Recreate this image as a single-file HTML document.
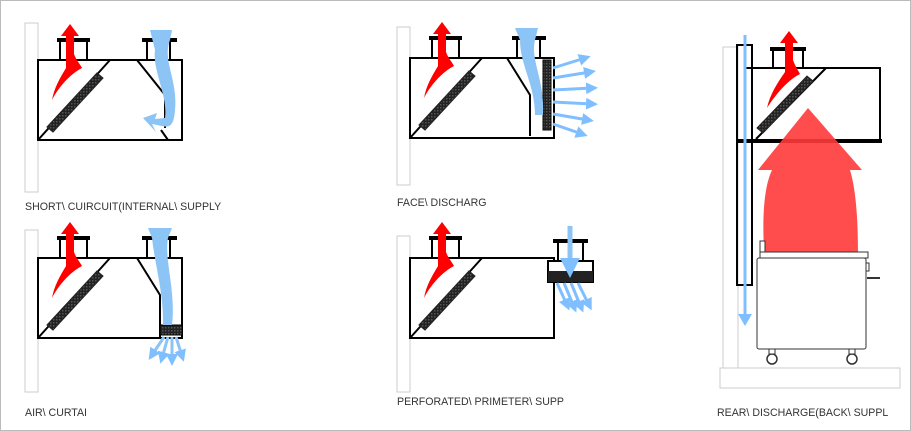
<!DOCTYPE html>
<html><head><meta charset="utf-8"><style>
body{margin:0;background:#fff}
svg{display:block}
text{font-family:"Liberation Sans",sans-serif;font-size:10.6px;fill:#333}
</style></head><body>
<svg width="911" height="431" viewBox="0 0 911 431" xmlns="http://www.w3.org/2000/svg">
<rect x="0.5" y="0.5" width="910" height="430" fill="#fff" stroke="#bbb"/>
<defs>
<pattern id="mesh" width="3" height="3" patternUnits="userSpaceOnUse"><rect width="3" height="3" fill="#222"/><rect width="1.5" height="1.5" fill="#555"/></pattern>
<g id="hood">
 <rect x="22" y="0" width="27" height="20" fill="#fff" stroke="#000" stroke-width="2"/>
 <line x1="19" y1="0" x2="52" y2="0" stroke="#000" stroke-width="4"/>
 <rect x="0" y="20" width="144" height="80" fill="#fff" stroke="#000" stroke-width="2"/>
 <line x1="0" y1="100" x2="72" y2="20" stroke="#000" stroke-width="2"/>
 <polygon points="9,87 15,92 65,38 59,33" fill="url(#mesh)" stroke="#222"/>
 <path d="M32,-16 L41,-4 L36,-4 L36,14 C38,20 42,24 44,28 C32,34 20,48 14,60 C16,48 22,38 28,28 L28,-4 L23,-4Z" fill="#f00"/>
</g>
<marker id="ah" markerWidth="4" markerHeight="4" refX="2" refY="2" orient="auto"><path d="M0,0 L4,2 L0,4Z" fill="#7fbfff"/></marker>
</defs>

<!-- Panel 1 -->
<rect x="25" y="23" width="13" height="169" fill="#fff" stroke="#ccc"/>
<use href="#hood" x="38" y="40"/>
<rect x="147" y="40" width="23" height="20" fill="#fff" stroke="#000" stroke-width="2"/>
<line x1="142" y1="40" x2="177" y2="40" stroke="#000" stroke-width="4"/>
<polyline points="137,60 165,95 165,128" fill="none" stroke="#000" stroke-width="2"/>
<line x1="161" y1="130" x2="168" y2="140" stroke="#000" stroke-width="2"/>
<path d="M150,30 L172,30 L170,40 C162,60 178,80 175,110 C174,125 170,128 162,126 L152,124 L156,132 L143,118 L157,113 L155,119 L165,118 C168,95 152,70 155,50Z" fill="#8cc4f5"/>
<text x="25" y="210">SHORT\ CUIRCUIT(INTERNAL\ SUPPLY</text>

<!-- Panel 2 -->
<rect x="25" y="230" width="13" height="162" fill="#fff" stroke="#ccc"/>
<use href="#hood" x="38" y="238"/>
<rect x="147" y="238" width="23" height="20" fill="#fff" stroke="#000" stroke-width="2"/>
<line x1="142" y1="238" x2="177" y2="238" stroke="#000" stroke-width="4"/>
<polyline points="137,258 160,295 160,338" fill="none" stroke="#000" stroke-width="2"/>
<rect x="160" y="325" width="22" height="10" fill="url(#mesh)" stroke="#000"/>
<path d="M148,228 L172,228 L168,238 C164,260 176,290 172,325 L163,325 C164,295 155,265 152,238Z" fill="#8cc4f5"/>
<g stroke="#8cc4f5" stroke-width="3" marker-end="url(#ah)">
<line x1="164" y1="337" x2="152" y2="355"/><line x1="168" y1="337" x2="162" y2="358"/><line x1="172" y1="337" x2="172" y2="360"/><line x1="176" y1="337" x2="182" y2="356"/></g>
<text x="25" y="416">AIR\ CURTAI</text>

<!-- Panel 3 -->
<rect x="397" y="27" width="13" height="158" fill="#fff" stroke="#ccc"/>
<use href="#hood" x="410" y="38"/>
<rect x="517" y="38" width="23" height="20" fill="#fff" stroke="#000" stroke-width="2"/>
<line x1="512" y1="38" x2="546" y2="38" stroke="#000" stroke-width="4"/>
<polyline points="507,58 530,95 530,136" fill="none" stroke="#000" stroke-width="2"/>
<rect x="543" y="60" width="8" height="70" fill="url(#mesh)" stroke="#000"/>
<path d="M515,28 L538,28 L535,40 C530,60 545,80 543,115 L535,115 C535,85 520,65 520,40Z" fill="#8cc4f5"/>
<g stroke="#7fbfff" stroke-width="3" marker-end="url(#ah)">
<line x1="553" y1="68" x2="585" y2="58"/><line x1="553" y1="78" x2="590" y2="72"/><line x1="553" y1="90" x2="592" y2="88"/><line x1="553" y1="102" x2="592" y2="104"/><line x1="553" y1="114" x2="588" y2="120"/><line x1="553" y1="124" x2="582" y2="134"/></g>
<text x="397" y="206">FACE\ DISCHARG</text>

<!-- Panel 4 -->
<rect x="397" y="236" width="13" height="156" fill="#fff" stroke="#ccc"/>
<use href="#hood" x="410" y="238"/>
<rect x="548" y="261" width="45" height="21" fill="#fff" stroke="#000" stroke-width="2"/>
<rect x="548" y="271" width="45" height="11" fill="#222"/>
<rect x="558" y="241" width="25" height="20" fill="#fff" stroke="#000" stroke-width="2"/>
<line x1="553" y1="241" x2="588" y2="241" stroke="#000" stroke-width="4"/>
<line x1="570" y1="226" x2="570" y2="268" stroke="#8cc4f5" stroke-width="5" marker-end="url(#ah)"/>
<g stroke="#7fbfff" stroke-width="3" marker-end="url(#ah)">
<line x1="557" y1="283" x2="567" y2="305"/><line x1="564" y1="283" x2="574" y2="307"/><line x1="571" y1="283" x2="581" y2="307"/><line x1="578" y1="283" x2="589" y2="305"/></g>
<text x="397" y="405">PERFORATED\ PRIMETER\ SUPP</text>

<!-- Panel 5 -->
<rect x="720" y="368" width="180" height="20" fill="#fff" stroke="#ccc"/>
<rect x="723" y="47" width="15" height="321" fill="#fff" stroke="#ccc"/>
<rect x="745" y="68" width="135" height="73" fill="#fff" stroke="#000" stroke-width="2"/>
<line x1="738" y1="141" x2="882" y2="141" stroke="#000" stroke-width="4"/>
<line x1="756" y1="139" x2="826" y2="68" stroke="#000" stroke-width="2"/>
<polygon points="757,128 763,133 813,81 807,76" fill="url(#mesh)" stroke="#222"/>
<rect x="773" y="49" width="30" height="19" fill="#fff" stroke="#000" stroke-width="2"/>
<line x1="770" y1="49" x2="806" y2="49" stroke="#000" stroke-width="4"/>
<path d="M789,31 L798,43 L793,43 L793,60 C795,66 798,70 800,74 C788,80 776,94 767,108 C770,94 778,82 785,72 L785,43 L780,43Z" fill="#f00"/>
<path d="M764,252 C762,210 765,185 772,170 L758,170 L808,108 L862,170 L850,170 C856,190 858,220 858,252Z" fill="#ff3a3a" opacity="0.9"/>
<rect x="737" y="45" width="15" height="240" fill="none" stroke="#000" stroke-width="2"/>
<line x1="745" y1="35" x2="745" y2="318" stroke="#7fbfff" stroke-width="3"/>
<path d="M738,314 L752,314 L745,326Z" fill="#7fbfff"/>
<rect x="760" y="241" width="5" height="12" fill="#fff" stroke="#333"/>
<rect x="760" y="252" width="108" height="6" fill="#fff" stroke="#333"/>
<rect x="757" y="258" width="109" height="91" rx="2" fill="#fff" stroke="#333"/>
<rect x="866" y="263" width="3" height="8" fill="#fff" stroke="#333"/>
<line x1="867" y1="278" x2="880" y2="278" stroke="#333" stroke-width="2"/>
<circle cx="772" cy="359" r="5" fill="#fff" stroke="#333" stroke-width="1.5"/>
<circle cx="852" cy="359" r="5" fill="#fff" stroke="#333" stroke-width="1.5"/>
<rect x="769" y="349" width="6" height="5" fill="#fff" stroke="#333"/>
<rect x="849" y="349" width="6" height="5" fill="#fff" stroke="#333"/>
<text x="717" y="416">REAR\ DISCHARGE(BACK\ SUPPL</text>
</svg>
</body></html>
